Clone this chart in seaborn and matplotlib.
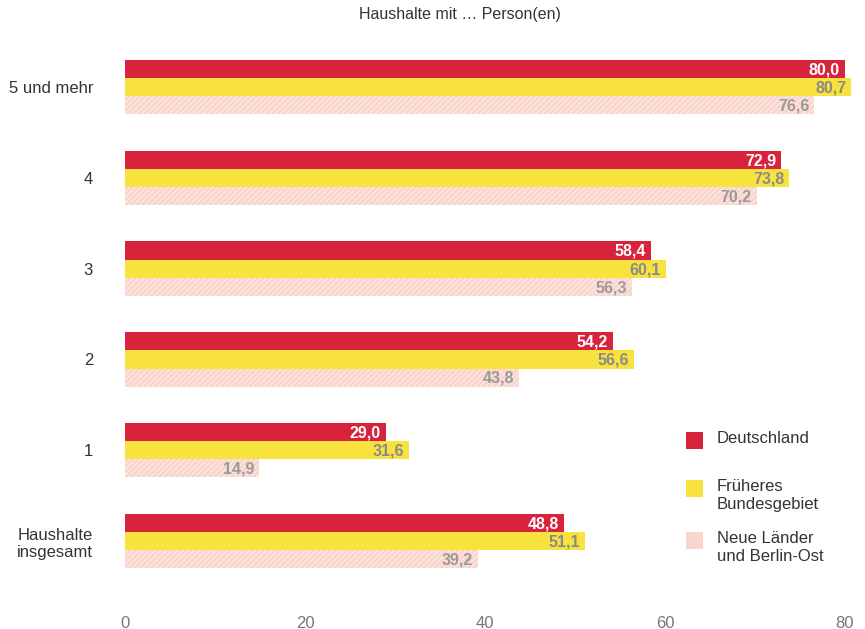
import matplotlib
matplotlib.use("Agg")
import matplotlib.pyplot as plt
from matplotlib import font_manager
from matplotlib.patches import Rectangle
from matplotlib.transforms import ScaledTranslation
import pandas as pd
import seaborn as sns

# Daten
kategorien = ["5 und mehr", "4", "3", "2", "1", "Haushalte\ninsgesamt"]
deutschland = [80.0, 72.9, 58.4, 54.2, 29.0, 48.8]
frueheres_bg = [80.7, 73.8, 60.1, 56.6, 31.6, 51.1]
neue_laender = [76.6, 70.2, 56.3, 43.8, 14.9, 39.2]
serien = ["Deutschland", "Früheres\nBundesgebiet", "Neue Länder\nund Berlin-Ost"]
x_ticks = [0, 20, 40, 60, 80]

farben = ["#d9233d", "#f7e23e", "#f9d5cb"]
text_farben = ["white", "#8a8a8a", "#9a9a9a"]

df = pd.DataFrame({
    "kategorie": kategorien * 3,
    "wert": deutschland + frueheres_bg + neue_laender,
    "serie": [serien[0]] * 6 + [serien[1]] * 6 + [serien[2]] * 6,
})

sns.set_theme(style="white")
plt.rcParams['font.family'] = ['Liberation Sans', 'DejaVu Sans']
plt.rcParams['hatch.color'] = '#f5c9be'
plt.rcParams['hatch.linewidth'] = 0.4

verfuegbar = {f.name for f in font_manager.fontManager.ttflist}
schmal = 'Liberation Sans Narrow' if 'Liberation Sans Narrow' in verfuegbar else 'Liberation Sans'

W, H = 865, 629
fig = plt.figure(figsize=(W / 100, H / 100), dpi=100)
ax = fig.add_axes([125 / W, 1 - 604.6 / H, (863 - 125) / W, (604.6 - 41.6) / H])

sns.barplot(data=df, y="kategorie", x="wert", hue="serie", orient="h",
            palette=farben, width=0.6, gap=0, saturation=1, legend=False,
            linewidth=0, ax=ax)

# Schraffur für neue Länder
for bar in ax.containers[2]:
    bar.set_hatch('//////')

# Werte in den Balken
for cont, tc in zip(ax.containers, text_farben):
    for bar in cont:
        w = bar.get_width()
        y = bar.get_y() + bar.get_height() / 2
        ax.text(w - 0.55, y + 0.01, f"{w:.1f}".replace(".", ","), ha="right", va="center",
                fontsize=11.5, fontweight="bold", color=tc)

ax.set_xlim(0, 82)
ax.set_ylim(5.7, -0.5)
ax.set_xticks(x_ticks)
ax.set_xticklabels([str(t) for t in x_ticks], fontsize=12, color="#777777", family=schmal)
ax.set_yticks(range(len(kategorien)))
ax.set_yticklabels(kategorien, fontsize=12, color="#333333")
verschiebung = ScaledTranslation(0, -5 / 100, fig.dpi_scale_trans)
for lbl in ax.get_yticklabels():
    lbl.set_multialignment("center")
    lbl.set_transform(lbl.get_transform() + verschiebung)
ax.tick_params(axis="y", length=0, pad=23)
ax.tick_params(axis="x", length=0, pad=8)
ax.set_xlabel("")
ax.set_ylabel("")
sns.despine(ax=ax, left=True, bottom=True)

fig.text(460 / W, 1 - 14 / H, "Haushalte mit … Person(en)", ha="center", va="center",
         fontsize=11.5, color="#333333")

# Legende
leg_y = [432, 480, 532]
for farbe, name, y0 in zip(farben, serien, leg_y):
    r = Rectangle((686 / W, 1 - (y0 + 17) / H), 17 / W, 17 / H, transform=fig.transFigure,
                  facecolor=farbe, edgecolor="none")
    if farbe == farben[2]:
        r.set_hatch('//////')
    fig.add_artist(r)
    fig.text(717 / W, 1 - (y0 - 1) / H, name, ha="left", va="top", fontsize=12,
             color="#333333", linespacing=1.25)

fig.savefig("out.png", dpi=100, facecolor="white")
